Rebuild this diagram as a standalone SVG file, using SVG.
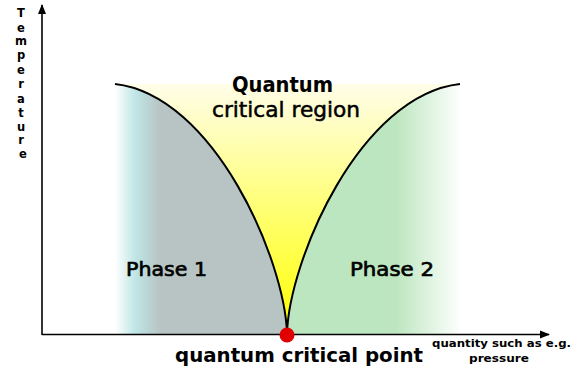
<svg xmlns="http://www.w3.org/2000/svg" width="578" height="368" viewBox="0 0 578 368">
<defs>
<linearGradient id="gY" x1="0" y1="84" x2="0" y2="334" gradientUnits="userSpaceOnUse">
<stop offset="0" stop-color="#fffde8"/>
<stop offset="0.45" stop-color="#ffff80"/>
<stop offset="1" stop-color="#ffff00"/>
</linearGradient>
<linearGradient id="gP1" x1="115" y1="0" x2="160" y2="0" gradientUnits="userSpaceOnUse">
<stop offset="0" stop-color="#ffffff"/>
<stop offset="0.45" stop-color="#bfe6e6"/>
<stop offset="1" stop-color="#b8c4c4"/>
</linearGradient>
<linearGradient id="gP2" x1="395" y1="0" x2="462" y2="0" gradientUnits="userSpaceOnUse">
<stop offset="0" stop-color="#bce6bf"/>
<stop offset="1" stop-color="#ffffff"/>
</linearGradient>
<marker id="arr" viewBox="0 0 10 10" refX="9" refY="5" markerWidth="10" markerHeight="10" markerUnits="userSpaceOnUse" orient="auto">
<path d="M0,1 L10,5 L0,9 Z" fill="#000"/>
</marker>
<style>
.lbl{font-family:"DejaVu Sans",Verdana,sans-serif;fill:#000}
.ax{font-family:"DejaVu Sans",Verdana,sans-serif;font-weight:bold;fill:#000}
.curve{fill:none;stroke:#000;stroke-width:2}
</style>
</defs>
<g id="regions">
<path id="yellow" d="M115,84 L460,84 C360,95 289,260 287,334 C285,260 214,95 115,84 Z" fill="url(#gY)"/>
<path id="phase1" d="M115,84 C214,95 285,260 287,334 L115,334 Z" fill="url(#gP1)"/>
<path id="phase2" d="M460,84 C360,95 289,260 287,334 L460,334 Z" fill="url(#gP2)"/>
</g>
<g id="connectors">
<path class="curve" d="M115,84 C214,95 285,260 287,334"/>
<path class="curve" d="M460,84 C360,95 289,260 287,334"/>
<line x1="42" y1="335" x2="42" y2="5" stroke="#000" stroke-width="1.6" marker-end="url(#arr)"/>
<line x1="42" y1="334.5" x2="549" y2="334.5" stroke="#000" stroke-width="1.6" marker-end="url(#arr)"/>
</g>
<g id="qcp">
<circle cx="287" cy="335" r="7.5" fill="#e00000"/>
</g>
<g id="labels">
<text class="lbl" x="232" y="92" font-size="21" font-weight="bold" textLength="101" lengthAdjust="spacingAndGlyphs">Quantum</text>
<text class="lbl" x="212" y="117" font-size="21" stroke="#000" stroke-width="0.5" textLength="148" lengthAdjust="spacingAndGlyphs">critical region</text>
<text class="lbl" x="126" y="276" font-size="20" stroke="#000" stroke-width="0.7" textLength="81" lengthAdjust="spacingAndGlyphs">Phase 1</text>
<text class="lbl" x="350" y="276" font-size="20" stroke="#000" stroke-width="0.7" textLength="84" lengthAdjust="spacingAndGlyphs">Phase 2</text>
<text class="ax" x="175" y="362" font-size="19.5" textLength="248" lengthAdjust="spacingAndGlyphs">quantum critical point</text>
<text class="ax" x="432" y="347" font-size="11" textLength="139" lengthAdjust="spacingAndGlyphs">quantity such as e.g.</text>
<text class="ax" x="469" y="362" font-size="11" textLength="60" lengthAdjust="spacingAndGlyphs">pressure</text>
<text class="ax" font-size="11.5" text-anchor="middle">
<tspan x="23" y="17">T</tspan>
<tspan x="23" y="32">e</tspan>
<tspan x="23" y="45">m</tspan>
<tspan x="23" y="59">p</tspan>
<tspan x="23" y="74">e</tspan>
<tspan x="23" y="88">r</tspan>
<tspan x="23" y="103">a</tspan>
<tspan x="23" y="117">t</tspan>
<tspan x="23" y="131">u</tspan>
<tspan x="23" y="144">r</tspan>
<tspan x="23" y="158">e</tspan>
</text>
</g>
</svg>
